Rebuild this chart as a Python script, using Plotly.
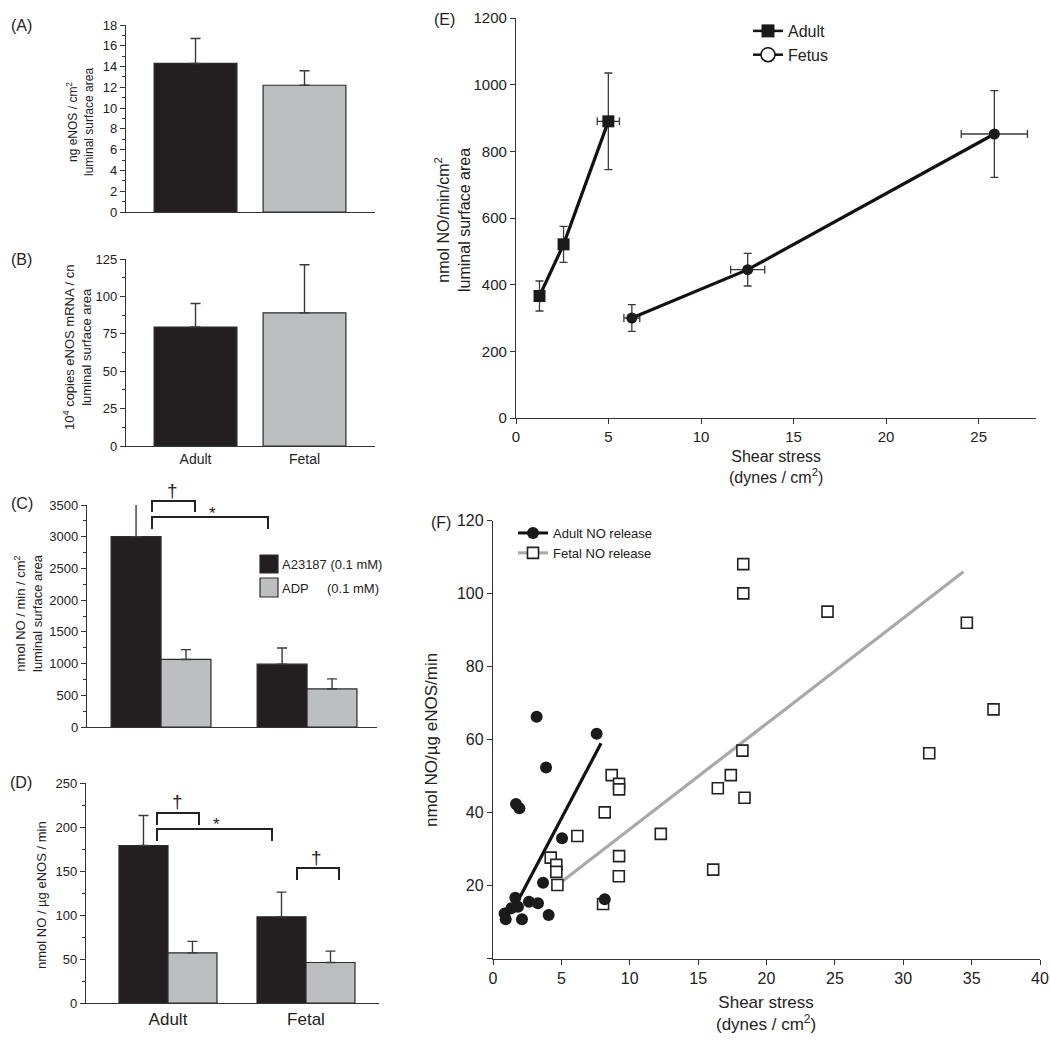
import plotly.graph_objects as go

W, H = 1050, 1045

# ---------------- data ----------------
groups = ["Adult", "Fetal"]

# (A) eNOS protein (ng / cm2)
a_enos = [14.3, 12.2]
a_enos_err = [2.4, 1.4]
# (B) eNOS mRNA (10^4 copies / cm2)
b_mrna = [79.5, 89.0]
b_mrna_err = [15.8, 32.2]
# (C) NO release per luminal surface area
c_a23187 = [3000, 990]
c_a23187_err = [600, 255]
c_adp = [1065, 600]
c_adp_err = [155, 158]
# (D) NO release per ug eNOS
d_a23187 = [179, 98]
d_a23187_err = [34, 28]
d_adp = [57, 46]
d_adp_err = [13, 13]

# (E) NO vs shear stress (means +/- SE)
e_adult_x = [1.27, 2.57, 4.99]
e_adult_y = [366, 521, 890]
e_adult_xerr = [0, 0, 0.6]
e_adult_yerr = [45, 54, 145]
e_fetus_x = [6.26, 12.52, 25.85]
e_fetus_y = [300, 445, 852]
e_fetus_xerr = [0.43, 0.92, 1.79]
e_fetus_yerr = [40, 49, 130]

# (F) individual vessels
f_adult_x = [3.19, 7.58, 3.88, 1.68, 1.93, 5.05, 3.66, 1.63, 8.17, 2.63, 3.29,
             4.07, 0.85, 1.34, 1.83, 0.93, 2.12]
f_adult_y = [66.3, 61.6, 52.4, 42.4, 41.2, 33.0, 20.8, 16.7, 16.3, 15.6, 15.2,
             12.0, 12.4, 13.8, 14.2, 10.8, 10.8]
f_fetal_x = [18.3, 18.3, 24.46, 34.65, 36.6, 31.9, 18.24, 17.39, 16.44, 18.39,
             8.68, 9.22, 9.22, 8.17, 6.17, 12.27, 9.22, 9.2, 4.22, 4.63, 4.63,
             4.71, 8.05, 16.1]
f_fetal_y = [108.1, 100.1, 95.1, 92.05, 68.3, 56.3, 57.0, 50.3, 46.7, 44.1,
             50.3, 47.9, 46.4, 40.1, 33.6, 34.2, 28.1, 22.6, 27.7, 25.7, 23.8,
             20.2, 15.0, 24.4]
f_adult_fit_x = [1.98, 7.9]
f_adult_fit_y = [17.0, 59.0]
f_fetal_fit_x = [5.02, 34.4]
f_fetal_fit_y = [21.1, 106.0]

cat_pos = [i + 1 for i in range(len(groups))]

# ---------------- styles ----------------
FONT = "Liberation Sans, Arial, Helvetica, sans-serif"
BLACK = "#231f20"
GRAY = "#bcbec0"
EDGE = "#2b2b2b"
AX = "#333333"


def fx(p):
    return p / W


def fy(p):
    return 1 - p / H


fig = go.Figure()

err_style = dict(type="data", symmetric=False, color="#3a3a3a", thickness=1.4, width=5)


def bar(xaxis, yaxis, vals, errs, color, width, offset):
    fig.add_trace(go.Bar(
        x=cat_pos, y=vals, width=width, offset=offset,
        marker=dict(color=color, line=dict(color=EDGE, width=1.2)),
        error_y=dict(array=errs, arrayminus=[0] * len(errs), **err_style),
        xaxis=xaxis, yaxis=yaxis, showlegend=False, hoverinfo="skip"))


# A
wab = 0.76
fig.add_trace(go.Bar(
    x=cat_pos, y=a_enos, width=wab, offset=-wab / 2,
    marker=dict(color=[BLACK, GRAY], line=dict(color=EDGE, width=1.2)),
    error_y=dict(array=a_enos_err, arrayminus=[0, 0], **err_style),
    xaxis="x", yaxis="y", showlegend=False))
# B
fig.add_trace(go.Bar(
    x=cat_pos, y=b_mrna, width=wab, offset=-wab / 2,
    marker=dict(color=[BLACK, GRAY], line=dict(color=EDGE, width=1.2)),
    error_y=dict(array=b_mrna_err, arrayminus=[0, 0], **err_style),
    xaxis="x2", yaxis="y2", showlegend=False))
# C
wc = 0.342
bar("x3", "y3", c_a23187, c_a23187_err, BLACK, wc, -wc)
bar("x3", "y3", c_adp, c_adp_err, GRAY, wc, 0)
# D
wd = 0.355
bar("x4", "y4", d_a23187, d_a23187_err, BLACK, wd, -wd)
bar("x4", "y4", d_adp, d_adp_err, GRAY, wd, 0)

# E
e_err = dict(type="data", color="#3a3a3a", thickness=1.3, width=4)
fig.add_trace(go.Scatter(
    x=e_adult_x, y=e_adult_y, mode="lines+markers",
    line=dict(color="#111111", width=3.2),
    marker=dict(symbol="square", size=12, color="#1a1a1a"),
    error_x=dict(array=e_adult_xerr, **e_err),
    error_y=dict(array=e_adult_yerr, **e_err),
    xaxis="x5", yaxis="y5", showlegend=False))
fig.add_trace(go.Scatter(
    x=e_fetus_x, y=e_fetus_y, mode="lines+markers",
    line=dict(color="#111111", width=3.2),
    marker=dict(symbol="circle", size=11, color="#1a1a1a"),
    error_x=dict(array=e_fetus_xerr, **e_err),
    error_y=dict(array=e_fetus_yerr, **e_err),
    xaxis="x5", yaxis="y5", showlegend=False))
# legend entries for E
fig.add_trace(go.Scatter(
    x=[None], y=[None], mode="lines+markers", name="Adult",
    line=dict(color="#111111", width=2.5),
    marker=dict(symbol="square", size=13, color="#1a1a1a"),
    xaxis="x5", yaxis="y5", legend="legend2"))
fig.add_trace(go.Scatter(
    x=[None], y=[None], mode="lines+markers", name="Fetus",
    line=dict(color="#111111", width=2.5),
    marker=dict(symbol="circle", size=14, color="white", line=dict(color="#111111", width=1.5)),
    xaxis="x5", yaxis="y5", legend="legend2"))

# F
fig.add_trace(go.Scatter(
    x=f_fetal_fit_x, y=f_fetal_fit_y, mode="lines",
    line=dict(color="#a7a9ac", width=3.2),
    xaxis="x6", yaxis="y6", showlegend=False))
fig.add_trace(go.Scatter(
    x=f_adult_fit_x, y=f_adult_fit_y, mode="lines",
    line=dict(color="#111111", width=3.2),
    xaxis="x6", yaxis="y6", showlegend=False))
fig.add_trace(go.Scatter(
    x=f_fetal_x, y=f_fetal_y, mode="markers",
    marker=dict(symbol="square", size=11, color="white", line=dict(color="#222222", width=1.6)),
    xaxis="x6", yaxis="y6", showlegend=False))
fig.add_trace(go.Scatter(
    x=f_adult_x, y=f_adult_y, mode="markers",
    marker=dict(symbol="circle", size=12, color="#1a1a1a"),
    xaxis="x6", yaxis="y6", showlegend=False))
fig.add_trace(go.Scatter(
    x=[None], y=[None], mode="lines+markers", name="Adult NO release",
    line=dict(color="#111111", width=3),
    marker=dict(symbol="circle", size=12, color="#1a1a1a"),
    xaxis="x6", yaxis="y6", legend="legend3"))
fig.add_trace(go.Scatter(
    x=[None], y=[None], mode="lines+markers", name="Fetal NO release",
    line=dict(color="#a7a9ac", width=3),
    marker=dict(symbol="square", size=11, color="white", line=dict(color="#222222", width=1.6)),
    xaxis="x6", yaxis="y6", legend="legend3"))

# ---------------- axes ----------------
base = dict(showline=True, linecolor=AX, linewidth=1.3, showgrid=False, zeroline=False,
            ticks="outside", tickcolor=AX, tickwidth=1.2, ticklen=5, automargin=False)


def yax(px_top, px_bot, anchor, rng, dtick, minor, fs):
    d = dict(base)
    d.update(domain=[fy(px_bot), fy(px_top)], range=rng, dtick=dtick, tick0=0,
             anchor=anchor, tickfont=dict(size=fs, color="#222", family=FONT))
    if minor:
        d["minor"] = dict(dtick=minor, ticks="outside", ticklen=3, tickcolor=AX, tickwidth=1)
    return d


def xcat(px_left, px_right, anchor, rng, labels, fs):
    d = dict(base)
    d.update(domain=[fx(px_left), fx(px_right)], range=rng, ticks="", anchor=anchor,
             tickvals=cat_pos, ticktext=groups, showticklabels=labels,
             tickfont=dict(size=fs, color="#222", family=FONT))
    return d


layout = dict(
    width=W, height=H, margin=dict(l=0, r=0, t=0, b=0, autoexpand=False),
    paper_bgcolor="white", plot_bgcolor="rgba(0,0,0,0)",
    barmode="overlay", font=dict(family=FONT, color="#222"),
)

xa = xcat(126, 375, "y", [0.362, 2.647], False, 14)
ya = yax(25, 212, "x", [0, 18], 2, 1, 13)
xb = xcat(126, 375, "y2", [0.362, 2.647], True, 14)
yb = yax(259, 446, "x2", [0, 125], 25, 12.5, 13)
xc = xcat(87, 377, "y3", [0.493, 2.479], False, 14)
yc = yax(505, 727, "x3", [0, 3500], 500, 250, 13)
xd = xcat(86, 379, "y4", [0.406, 2.529], True, 17)
yd = yax(783, 1003, "x4", [0, 250], 50, 25, 13)

xe = dict(base)
xe.update(domain=[fx(516), fx(1036)], range=[0, 28.1], dtick=5, tick0=0,
          anchor="y5", tickfont=dict(size=15, family=FONT, color="#222"))
ye = dict(base)
ye.update(domain=[fy(418), fy(18)], range=[0, 1200], dtick=200, tick0=0,
          anchor="x5", tickfont=dict(size=15, family=FONT, color="#222"))

xf = dict(base)
xf.update(domain=[fx(493), fx(1040)], range=[0, 40], dtick=5, tick0=0,
          anchor="y6", tickfont=dict(size=16, family=FONT, color="#222"),
          ticklabeloverflow="allow")
yf = dict(base)
yf.update(domain=[fy(958.7), fy(520.7)], range=[0, 120],
          tickvals=[20, 40, 60, 80, 100, 120],
          minor=dict(tickvals=[0], ticks="outside", ticklen=5, tickcolor=AX, tickwidth=1.2),
          anchor="x6", tickfont=dict(size=16, family=FONT, color="#222"))

layout.update(xaxis=xa, yaxis=ya, xaxis2=xb, yaxis2=yb, xaxis3=xc, yaxis3=yc,
              xaxis4=xd, yaxis4=yd, xaxis5=xe, yaxis5=ye, xaxis6=xf, yaxis6=yf)

layout["legend2"] = dict(x=fx(748), y=fy(14), xanchor="left", yanchor="top",
                         bgcolor="rgba(0,0,0,0)", font=dict(size=16, family=FONT, color="#222"),
                         tracegroupgap=4, itemsizing="trace")
layout["legend3"] = dict(x=fx(513), y=fy(518), xanchor="left", yanchor="top",
                         bgcolor="rgba(0,0,0,0)", font=dict(size=13, family=FONT, color="#222"),
                         tracegroupgap=2, itemsizing="trace")
layout["showlegend"] = True

fig.update_layout(**layout)

# ---------------- annotations ----------------
ann = []


def text(px_x, px_y, s, size, angle=0, xanchor="center"):
    ann.append(dict(x=fx(px_x), y=fy(px_y), xref="paper", yref="paper", text=s, showarrow=False,
                    textangle=angle, xanchor=xanchor, yanchor="middle", align="center",
                    font=dict(size=size, family=FONT, color="#222")))


# panel letters
text(21, 26, "(A)", 16)
text(21, 260, "(B)", 16)
text(22, 503, "(C)", 16)
text(21, 782, "(D)", 16)
text(444, 19, "(E)", 16)
text(441, 522, "(F)", 16)

# y titles
text(80, 122, "ng eNOS / cm<sup>2</sup><br>luminal surface area", 12, -90)
text(77, 348, "10<sup>4</sup> copies eNOS mRNA / cn<br>luminal surface area", 13, -90)
text(28, 613, "nmol NO / min / cm<sup>2</sup><br>luminal surface area", 13, -90)
text(41, 895, "nmol NO / µg eNOS / min", 13, -90)
text(452, 220, "nmol NO/min/cm<sup>2</sup><br>luminal surface area", 16, -90)
text(431, 740, "nmol NO/µg eNOS/min", 17, -90)

# x titles
text(776, 467, "Shear stress<br>(dynes / cm<sup>2</sup>)", 16)
text(766, 1013, "Shear stress<br>(dynes / cm<sup>2</sup>)", 17)

# C legend text
text(280, 564, "A23187 (0.1 mM)", 13, xanchor="left")
text(280, 588, "ADP", 13, xanchor="left")
text(325, 588, "(0.1 mM)", 13, xanchor="left")

# significance marks
text(173, 490, "†", 19)
text(212, 513, "*", 17)
text(177, 801, "†", 19)
text(216, 824, "*", 17)
text(316, 857, "†", 19)

shapes = []


def bracket(x0, x1, ytop, ybot):
    path = "M {},{} L {},{} L {},{} L {},{}".format(
        fx(x0), fy(ybot), fx(x0), fy(ytop), fx(x1), fy(ytop), fx(x1), fy(ybot))
    shapes.append(dict(type="path", path=path, xref="paper", yref="paper",
                       line=dict(color="#222", width=2)))


bracket(152, 195, 501, 512)
bracket(152, 268, 517, 529)
bracket(157, 199, 813, 825)
bracket(157, 272, 829, 841)
bracket(297, 339, 868, 880)

# C legend boxes
for (y0, y1), col in zip([(555, 573), (578, 597)], [BLACK, GRAY]):
    shapes.append(dict(type="rect", xref="paper", yref="paper",
                       x0=fx(260), x1=fx(278), y0=fy(y1), y1=fy(y0),
                       fillcolor=col, line=dict(color=EDGE, width=1.2)))

fig.update_layout(annotations=ann, shapes=shapes)

fig.write_html(
    "out.html",
    config={"displayModeBar": False},
    post_script="document.body.style.margin='0px';document.body.style.overflow='hidden';",
)
